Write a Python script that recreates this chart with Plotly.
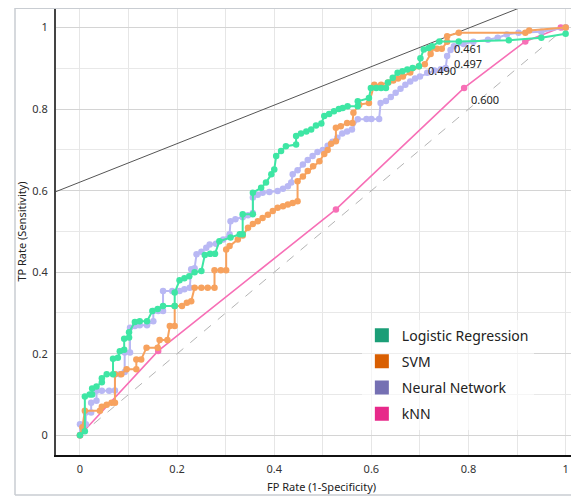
import plotly.graph_objects as go

# ---------------- data ----------------
models = ["Logistic Regression", "SVM", "Neural Network", "kNN"]

lr_fpr = [0, 0.01, 0.01, 0.02, 0.025, 0.025, 0.034, 0.045, 0.045, 0.055, 0.068, 0.068, 0.078, 0.082, 0.091, 0.091,
          0.101, 0.101, 0.113, 0.123, 0.138, 0.149, 0.16, 0.171, 0.195, 0.195, 0.205, 0.215, 0.225, 0.236, 0.25,
          0.257, 0.268, 0.278, 0.287, 0.31, 0.329, 0.335, 0.335, 0.356, 0.356, 0.373, 0.383, 0.394, 0.4, 0.404,
          0.414, 0.424, 0.445, 0.445, 0.455, 0.466, 0.476, 0.486, 0.497, 0.503, 0.513, 0.523, 0.533, 0.541, 0.551,
          0.572, 0.572, 0.595, 0.599, 0.61, 0.62, 0.63, 0.634, 0.644, 0.654, 0.664, 0.674, 0.685, 0.698, 0.701,
          0.708, 0.718, 0.725, 0.74, 0.78, 0.883, 0.95, 1.0]
lr_tpr = [0, 0.01, 0.095, 0.1, 0.1, 0.115, 0.12, 0.13, 0.14, 0.15, 0.15, 0.188, 0.19, 0.206, 0.21, 0.237,
          0.24, 0.253, 0.278, 0.28, 0.28, 0.305, 0.31, 0.317, 0.317, 0.35, 0.38, 0.385, 0.39, 0.4, 0.403,
          0.442, 0.445, 0.445, 0.476, 0.485, 0.493, 0.493, 0.542, 0.542, 0.595, 0.607, 0.62, 0.64, 0.652, 0.685,
          0.697, 0.709, 0.713, 0.734, 0.74, 0.745, 0.75, 0.76, 0.765, 0.783, 0.788, 0.795, 0.8, 0.803, 0.807,
          0.807, 0.819, 0.827, 0.852, 0.852, 0.852, 0.852, 0.865, 0.877, 0.889, 0.893, 0.897, 0.901, 0.905, 0.925,
          0.946, 0.95, 0.954, 0.966, 0.966, 0.969, 0.975, 0.985]

svm_fpr = [0, 0.005, 0.01, 0.041, 0.045, 0.055, 0.065, 0.072, 0.072, 0.085, 0.096, 0.116, 0.116, 0.126, 0.137,
           0.16, 0.164, 0.18, 0.185, 0.195, 0.195, 0.21, 0.22, 0.229, 0.236, 0.25, 0.263, 0.277, 0.277, 0.29,
           0.301, 0.301, 0.308, 0.325, 0.335, 0.346, 0.356, 0.366, 0.376, 0.387, 0.397, 0.407, 0.418, 0.428,
           0.438, 0.448, 0.448, 0.459, 0.469, 0.48, 0.493, 0.503, 0.51, 0.517, 0.527, 0.527, 0.537, 0.55, 0.561,
           0.563, 0.575, 0.595, 0.606, 0.62, 0.635, 0.645, 0.655, 0.665, 0.68, 0.698, 0.71, 0.722, 0.722, 0.735,
           0.745, 0.756, 0.756, 0.78, 0.917, 0.925, 1.0]
svm_tpr = [0, 0.02, 0.06, 0.06, 0.07, 0.075, 0.08, 0.08, 0.15, 0.15, 0.162, 0.162, 0.186, 0.186, 0.215,
           0.215, 0.234, 0.234, 0.268, 0.268, 0.317, 0.317, 0.325, 0.329, 0.362, 0.362, 0.362, 0.362, 0.405, 0.405,
           0.405, 0.456, 0.464, 0.48, 0.49, 0.509, 0.518, 0.525, 0.533, 0.541, 0.55, 0.558, 0.562, 0.566,
           0.57, 0.574, 0.623, 0.635, 0.648, 0.66, 0.672, 0.69, 0.7, 0.715, 0.721, 0.754, 0.758, 0.766, 0.766,
           0.791, 0.811, 0.815, 0.86, 0.86, 0.865, 0.87, 0.875, 0.88, 0.89, 0.905, 0.91, 0.935, 0.946, 0.948,
           0.948, 0.965, 0.979, 0.987, 0.987, 0.993, 1.0]

nn_fpr = [0, 0, 0.012, 0.012, 0.023, 0.023, 0.034, 0.034, 0.045, 0.06, 0.072, 0.072, 0.082, 0.092, 0.092, 0.103,
          0.103, 0.113, 0.123, 0.138, 0.151, 0.151, 0.161, 0.171, 0.171, 0.19, 0.205, 0.215, 0.226, 0.229, 0.236,
          0.24, 0.25, 0.26, 0.267, 0.28, 0.295, 0.308, 0.31, 0.32, 0.335, 0.346, 0.356, 0.356, 0.366, 0.376,
          0.39, 0.407, 0.418, 0.428, 0.435, 0.438, 0.448, 0.459, 0.469, 0.479, 0.489, 0.5, 0.51, 0.52, 0.53,
          0.54, 0.55, 0.56, 0.572, 0.59, 0.6, 0.616, 0.619, 0.63, 0.64, 0.65, 0.66, 0.67, 0.68, 0.69, 0.7,
          0.715, 0.73, 0.743, 0.753, 0.756, 0.763, 0.77, 0.79, 0.81, 0.84, 0.86, 0.879, 0.903, 0.95, 1.0]
nn_tpr = [0, 0.027, 0.027, 0.056, 0.056, 0.08, 0.085, 0.109, 0.109, 0.109, 0.11, 0.15, 0.15, 0.155, 0.203, 0.203,
          0.264, 0.268, 0.27, 0.27, 0.28, 0.305, 0.305, 0.305, 0.354, 0.354, 0.354, 0.358, 0.362, 0.407, 0.41,
          0.444, 0.45, 0.46, 0.468, 0.47, 0.48, 0.493, 0.525, 0.53, 0.535, 0.54, 0.545, 0.583, 0.59, 0.595,
          0.597, 0.599, 0.605, 0.611, 0.62, 0.64, 0.65, 0.664, 0.675, 0.685, 0.695, 0.7, 0.71, 0.72, 0.73,
          0.74, 0.745, 0.75, 0.775, 0.776, 0.776, 0.776, 0.815, 0.82, 0.83, 0.84, 0.85, 0.86, 0.868, 0.875, 0.88,
          0.889, 0.895, 0.898, 0.901, 0.93, 0.945, 0.954, 0.96, 0.965, 0.97, 0.975, 0.983, 0.987, 0.99, 1.0]

knn_fpr = [0, 0.161, 0.527, 0.791, 0.917, 0.99, 1.0]
knn_tpr = [0, 0.207, 0.554, 0.852, 0.966, 1.0, 1.0]

# threshold labels (text, fpr, tpr)
thr_text = ["0.461", "0.497", "0.490", "0.600"]
thr_fpr = [0.765, 0.765, 0.713, 0.802]
thr_tpr = [0.949, 0.911, 0.895, 0.823]

# iso-performance line
iso_intercept = 0.621
iso_slope = 0.472

x_ticks = [0, 0.2, 0.4, 0.6, 0.8, 1]
x_tick_labels = ["0", "0.2", "0.4", "0.6", "0.8", "1"]
y_ticks = [0, 0.2, 0.4, 0.6, 0.8, 1]
y_tick_labels = ["0", "0.2", "0.4", "0.6", "0.8", "1"]

# ---------------- styles ----------------
line_colors = ["#3ee6a4", "#f7a25e", "#b9b8f4", "#f76fb6"]
legend_colors = ["#1b9e77", "#d95f02", "#7570b3", "#e7298a"]
FONT = "Noto Sans"

fig = go.Figure()

# diagonal
fig.add_trace(go.Scatter(x=[0, 1], y=[0, 1], mode="lines",
                         line=dict(color="#b4b4b4", width=1, dash="dash"),
                         showlegend=False, hoverinfo="skip"))
# iso-performance line
iso_x = [-0.1, 1.1]
iso_y = [iso_intercept + iso_slope * v for v in iso_x]
fig.add_trace(go.Scatter(x=iso_x, y=iso_y, mode="lines",
                         line=dict(color="#555555", width=1),
                         showlegend=False, hoverinfo="skip"))

curves = [(knn_fpr, knn_tpr, 3, 1.6), (nn_fpr, nn_tpr, 2, 2), (svm_fpr, svm_tpr, 1, 2), (lr_fpr, lr_tpr, 0, 2)]
for xs, ys, idx, w in curves:
    fig.add_trace(go.Scatter(x=xs, y=ys, mode="lines+markers",
                             line=dict(color=line_colors[idx], width=w),
                             marker=dict(color=line_colors[idx], size=6.5),
                             name=models[idx], showlegend=False))

# legend-only entries
for i, m in enumerate(models):
    fig.add_trace(go.Scatter(x=[None], y=[None], mode="markers",
                             marker=dict(symbol="square", size=14, color=legend_colors[i],
                                         line=dict(color="#ffffff", width=0)),
                             name=m, legendgroup=m, showlegend=True))

for t, xv, yv in zip(thr_text, thr_fpr, thr_tpr):
    fig.add_annotation(x=xv, y=yv, text=t, showarrow=False, xanchor="left", yanchor="middle",
                       font=dict(family=FONT, size=11, color="#222222"))

# outer widget frame
frame = "#c9cdd2"
fig.add_shape(type="line", xref="paper", yref="paper", x0=-0.0772, x1=-0.0772, y0=-0.0895, y1=1.0,
              line=dict(color=frame, width=1.5))
fig.add_shape(type="line", xref="paper", yref="paper", x0=-0.0772, x1=1.05, y0=-0.0895, y1=-0.0895,
              line=dict(color=frame, width=1.5))
fig.add_shape(type="line", xref="paper", yref="paper", x0=-0.0772, x1=1.05, y0=1.0, y1=1.0,
              line=dict(color=frame, width=2))

fig.update_layout(
    width=579, height=501,
    margin=dict(l=48, r=0, t=0, b=54, autoexpand=False),
    paper_bgcolor="white", plot_bgcolor="white",
    font=dict(family=FONT, size=11, color="#333333"),
    showlegend=True,
    legend=dict(x=0.576, y=0.303, xanchor="left", yanchor="top",
                bgcolor="rgba(255,255,255,0.6)", borderwidth=0,
                font=dict(family=FONT, size=14, color="#222222"),
                tracegroupgap=5, itemsizing="trace"),
    xaxis=dict(range=[-0.0494, 1.044], tickvals=x_ticks, ticktext=x_tick_labels,
               showgrid=True, gridcolor="#e6e6e6", zeroline=False, automargin=False,
               minor=dict(dtick=0.1, tick0=0, showgrid=True, gridcolor="#e6e6e6"),
               showline=True, linecolor="#111111", linewidth=2, ticks="", ticklabelstandoff=3,
               tickfont=dict(size=11, color="#333333"),
               title=dict(text="FP Rate (1-Specificity)", standoff=8, font=dict(size=11, color="#222222"))),
    yaxis=dict(range=[-0.0483, 1.048], tickvals=y_ticks, ticktext=y_tick_labels,
               showgrid=True, gridcolor="#d4d4d4", zeroline=False, automargin=False,
               minor=dict(dtick=0.1, tick0=0, showgrid=True, gridcolor="#e8e8e8"),
               showline=True, linecolor="#444444", linewidth=2, ticks="", ticklabelstandoff=4,
               tickfont=dict(size=11, color="#333333"),
               title=dict(text="TP Rate (Sensitivity)", standoff=3, font=dict(size=11, color="#222222"))),
)

fig.write_html("out.html")
